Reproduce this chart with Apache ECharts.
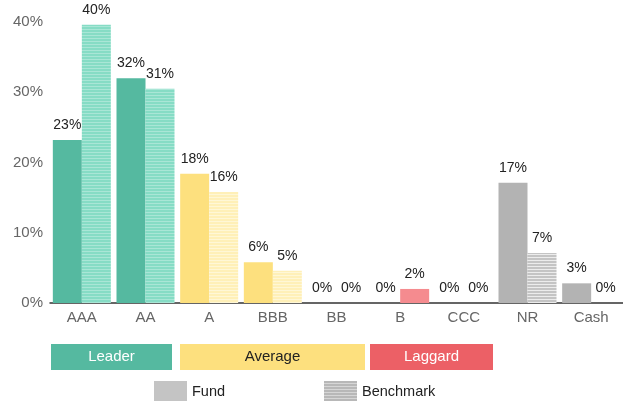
<!DOCTYPE html>
<html><head><meta charset="utf-8">
<script src="https://cdn.jsdelivr.net/npm/echarts@6/dist/echarts.min.js"></script>
<style>html,body{margin:0;padding:0;background:#fff}#c{width:623px;height:401px}</style>
</head><body><div id="c"></div>
<script>
const categories = ['AAA','AA','A','BBB','BB','B','CCC','NR','Cash'];
const tiers = ['leader','leader','average','average','average','laggard','laggard','none','none'];
const fundValues = [23.2, 32.0, 18.4, 5.8, 0, 0, 0, 17.1, 2.8];
const benchmarkValues = [39.6, 30.5, 15.8, 4.6, 0, 2.0, 0, 7.1, 0];
const yTicks = [0, 10, 20, 30, 40];
const tierLabels = ['Leader','Average','Laggard'];
const seriesNames = ['Fund','Benchmark'];

const fundColors = {leader:'#55b9a0', average:'#fde07e', laggard:'#f08488', none:'#b3b3b3'};
const benchBase = {leader:'#86dcc5', average:'#fff0b8', laggard:'#f58b8f', none:'#c4c4c4'};
const benchLine = {leader:'#a9e6d6', average:'#fff7d6', laggard:'#f7a3a6', none:'#ececec'};

function stripe(base, line){
  const c = document.createElement('canvas');
  c.width = 4; c.height = 3;
  const g = c.getContext('2d');
  g.fillStyle = base; g.fillRect(0,0,4,3);
  g.fillStyle = line; g.fillRect(0,2,4,1);
  return {image:c, repeat:'repeat'};
}

const chart = echarts.init(document.getElementById('c'), null, {renderer:'canvas'});
const fmt = p => Math.round(p.value) + '%';
const labelStyle = {show:true, position:'top', distance:8, color:'#222', fontSize:14, fontFamily:'Liberation Sans, Arial', formatter: fmt};
const F = 'Liberation Sans, Arial';

const option = {
  animation:false,
  grid:{left:50, width:579, top:22, bottom:98},
  xAxis:{type:'category', data:categories,
    axisLine:{lineStyle:{color:'#333', width:1.5}}, axisTick:{show:false},
    axisLabel:{color:'#666', fontSize:15, fontFamily:F, margin:7}},
  yAxis:{type:'value', min:yTicks[0], max:yTicks[yTicks.length-1], interval:10,
    splitLine:{show:false}, axisLine:{show:false}, axisTick:{show:false},
    axisLabel:{color:'#666', fontSize:15, fontFamily:F, margin:7, formatter:'{value}%'}},
  series:[
    {name:seriesNames[0], type:'bar', barWidth:29, barGap:'0%',
      data: fundValues.map((v,i)=>({value:v, itemStyle:{color:fundColors[tiers[i]]}})),
      label:labelStyle},
    {name:seriesNames[1], type:'bar', barWidth:29, barGap:'0%',
      data: benchmarkValues.map((v,i)=>({value:v, itemStyle:{color: tiers[i]==='laggard' ? benchBase.laggard : stripe(benchBase[tiers[i]], benchLine[tiers[i]])}})),
      label:labelStyle}
  ],
  graphic:[
    {type:'rect', shape:{x:51,y:344,width:121,height:26}, style:{fill:'#55b9a0'}},
    {type:'text', x:111.5, y:357, style:{text:tierLabels[0], fill:'#fff', font:'15px Liberation Sans, Arial', align:'center', verticalAlign:'middle'}},
    {type:'rect', shape:{x:180,y:344,width:185,height:26}, style:{fill:'#fde07e'}},
    {type:'text', x:272.5, y:357, style:{text:tierLabels[1], fill:'#222', font:'15px Liberation Sans, Arial', align:'center', verticalAlign:'middle'}},
    {type:'rect', shape:{x:370,y:344,width:123,height:26}, style:{fill:'#ec6066'}},
    {type:'text', x:431.5, y:357, style:{text:tierLabels[2], fill:'#fff', font:'15px Liberation Sans, Arial', align:'center', verticalAlign:'middle'}},
    {type:'rect', shape:{x:154,y:381,width:33,height:20}, style:{fill:'#c4c4c4'}},
    {type:'text', x:192, y:392, style:{text:seriesNames[0], fill:'#222', font:'14.5px Liberation Sans, Arial', align:'left', verticalAlign:'middle'}},
    {type:'rect', shape:{x:324,y:381,width:33,height:20}, style:{fill:stripe('#b8b8b8','#d6d6d6')}},
    {type:'text', x:362, y:392, style:{text:seriesNames[1], fill:'#222', font:'14.5px Liberation Sans, Arial', align:'left', verticalAlign:'middle'}}
  ]
};
chart.setOption(option);
</script></body></html>
